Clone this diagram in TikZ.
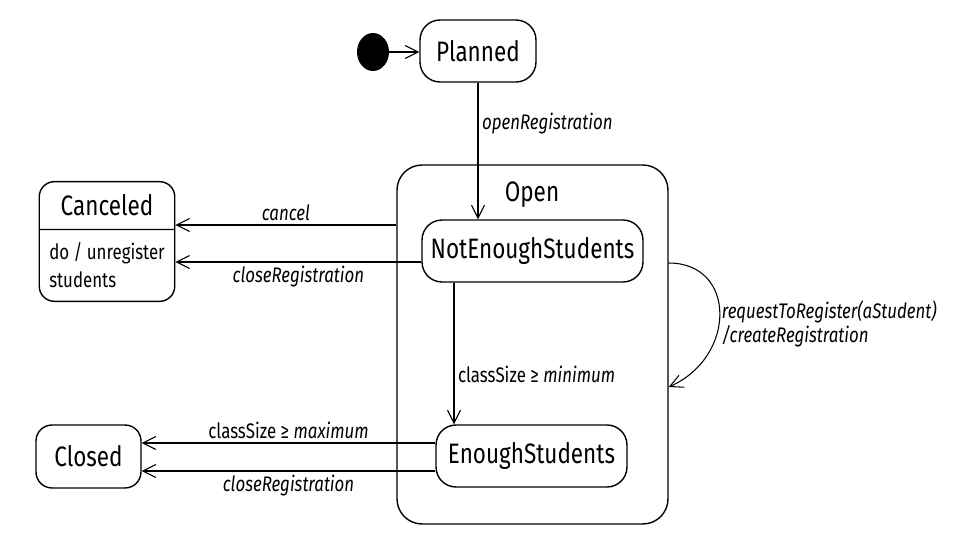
\documentclass[tikz,border=0pt]{standalone}
\usepackage{fontspec}
\setmainfont{Fira Sans}[FakeStretch=0.8]
\usetikzlibrary{arrows.meta,shapes.geometric,shapes.multipart}

\begin{document}
\begin{tikzpicture}[x=0.02cm,y=-0.02cm,
  state/.style={draw,line width=0.8pt,rounded corners=0.4cm,inner sep=0pt,
    font=\fontsize{16}{18}\selectfont},
  trans/.style={line width=0.6pt,-{Straight Barb[length=2.6mm,width=2.6mm]}},
  lbl/.style={font=\fontsize{12}{14}\selectfont,inner sep=2pt}]
  \useasboundingbox (0,0) rectangle (968,554);

  % states
  \node[ellipse,fill,minimum width=0.64cm,minimum height=0.76cm,inner sep=0pt] (init) at (373,52) {};
  \node[state,minimum width=2.32cm,minimum height=1.24cm] (plan) at (478,51) {Planned};
  \node[state,rounded corners=0.5cm,minimum width=5.42cm,minimum height=7.18cm] (open) at (532.5,344.5) {};
  \node[font=\fontsize{16}{18}\selectfont] (opentitle) at (532,195) {Open};
  \node[state,minimum width=4.42cm,minimum height=1.24cm] (note) at (532.5,251) {NotEnoughStudents};
  \node[state,minimum width=3.82cm,minimum height=1.24cm] (enough) at (531.5,456) {EnoughStudents};
  \node[state,rounded corners=0.32cm,minimum width=2.1cm,minimum height=1.26cm] (closed) at (88.5,456.5) {Closed};
  \node[state,rounded corners=0.3cm,rectangle split,rectangle split parts=2,
    rectangle split part align={center,left},minimum width=2.68cm,
    inner xsep=0.2cm,inner ysep=0.25cm,align=left] (canc) at (107,241.5)
    {Canceled\nodepart[font=\fontsize{12}{16}\selectfont]{second}do / unregister\\students};

  % transitions
  \draw[trans] (init.east) -- (plan.west |- init.east);
  \draw[trans] (plan.south) -- (plan.south |- note.north)
    node[lbl,pos=0.3,right] {\itshape openRegistration};
  \draw[trans] (open.west |- 0,225) -- (canc.east |- 0,225)
    node[lbl,midway,above] {\itshape cancel};
  \draw[trans] (note.west |- 0,262) -- (canc.east |- 0,262)
    node[lbl,midway,below] {\itshape closeRegistration};
  \draw[trans] (note.south -| 454,0) -- (enough.north -| 454,0)
    node[lbl,pos=0.65,right] {classSize ≥ \textit{minimum}};
  \draw[trans] (enough.west |- 0,443) -- (closed.east |- 0,443)
    node[lbl,midway,above] {classSize ≥ \textit{maximum}};
  \draw[trans] (enough.west |- 0,471) -- (closed.east |- 0,471)
    node[lbl,midway,below] {\itshape closeRegistration};
  \draw[trans] (open.east |- 0,263) .. controls +(68,0) and +(68,-30) .. (open.east |- 0,387);
  \node[lbl,anchor=west,align=left,font=\fontsize{12}{14}\selectfont\itshape] (reqlbl) at (718,324)
    {requestToRegister(aStudent)\\/createRegistration};
\end{tikzpicture}
\end{document}
